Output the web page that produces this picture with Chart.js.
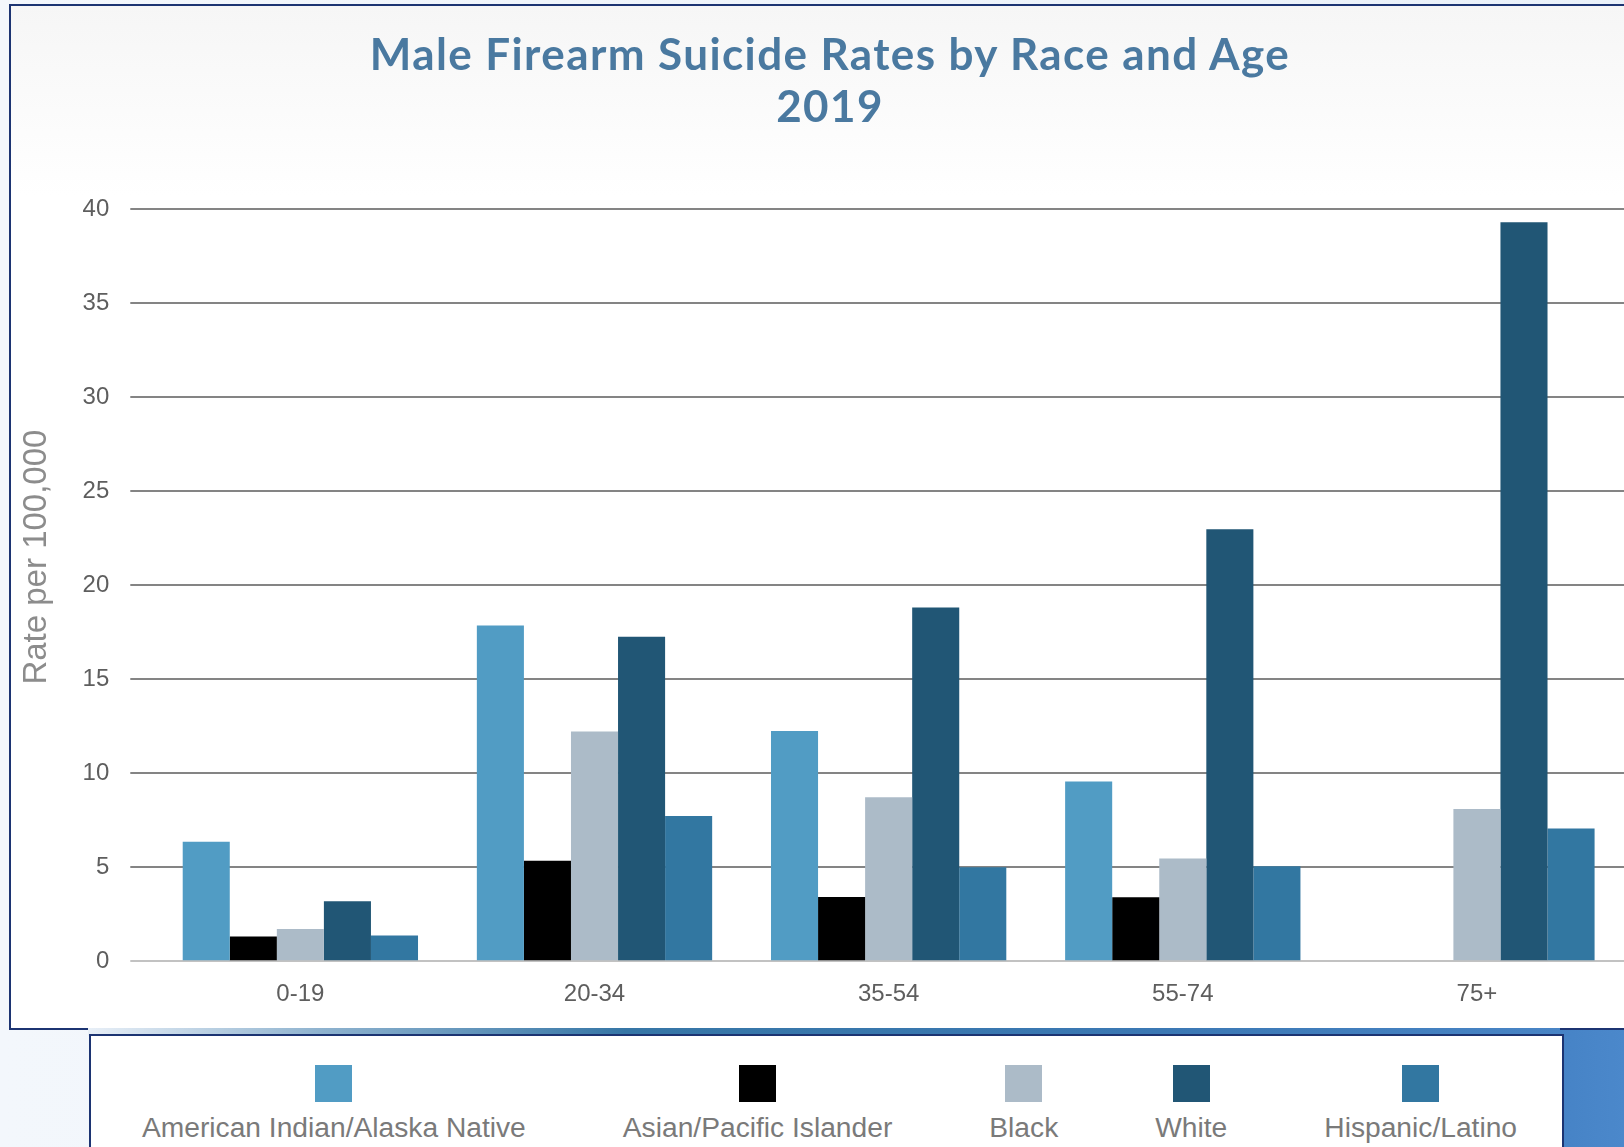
<!DOCTYPE html>
<html>
<head>
<meta charset="utf-8">
<script src="https://cdn.jsdelivr.net/npm/chart.js@4.4.1/dist/chart.umd.min.js"></script>
<style>
  html, body { margin: 0; padding: 0; }
  body {
    width: 1624px; height: 1147px; overflow: hidden; position: relative;
    background: linear-gradient(to right, #f3f7fc 0%, #eaf1f9 100%);
    font-family: "Liberation Sans", Arial, sans-serif;
  }
  #panel {
    position: absolute; left: 9px; top: 4px; width: 1700px; height: 1022px;
    border: 2px solid #1c3472;
    background: linear-gradient(to bottom, #f6f6f6 0px, #ffffff 190px);
  }
  #band {
    position: absolute; left: 88px; top: 1028px; width: 1536px; height: 8px;
    background: linear-gradient(to right, #e8eff7 0%, #8fb3cf 15%, #3676a6 35%, #3b78b4 70%, #4a86c8 100%);
  }
  #rightblock {
    position: absolute; left: 1560px; top: 1028px; width: 64px; height: 119px;
    background: linear-gradient(to right, #4683c6, #4b88cb);
    border-top: 2px solid #1c3472;
  }
  #legendbox {
    position: absolute; left: 89px; top: 1034px; width: 1471px; height: 200px;
    border: 2px solid #1c3472; background: #ffffff;
  }
  #legend {
    position: absolute; left: 0; top: 29px; width: 100%;
    display: flex; justify-content: center; gap: 97px; padding-left: 6px; box-sizing: border-box;
  }
  .item { display: flex; flex-direction: column; align-items: center; }
  .sw { width: 37px; height: 37px; }
  .lb { margin-top: 8px; font-size: 28.2px; line-height: 34px; color: #7a7a7a; white-space: nowrap; }
  #title {
    position: absolute; left: 0; top: 27px; width: 1660px; text-align: center;
    font-family: Lato, "Open Sans", sans-serif; font-weight: 700; font-size: 44px; line-height: 52px;
    letter-spacing: 1.4px; color: #4a79a0; z-index: 2;
  }
  #wrap { position: absolute; left: 11px; top: 6px; width: 1640px; height: 1022px; }
</style>
</head>
<body>
<div id="panel"></div>
<div id="band"></div>
<div id="rightblock"></div>
<div id="legendbox"><div id="legend"></div></div>
<div id="title">Male Firearm Suicide Rates by Race and Age<br>2019</div>
<div id="wrap"><canvas id="c" width="1640" height="1022"></canvas></div>
<script>
const categories = ["0-19", "20-34", "35-54", "55-74", "75+"];
const seriesNames = ["American Indian/Alaska Native", "Asian/Pacific Islander", "Black", "White", "Hispanic/Latino"];
const americanIndian = [6.35, 17.85, 12.24, 9.56, null];
const asianPacific = [1.32, 5.34, 3.42, 3.40, null];
const black = [1.71, 12.22, 8.72, 5.46, 8.1];
const white = [3.19, 17.26, 18.81, 22.97, 39.29];
const hispanic = [1.37, 7.72, 5.0, 5.05, 7.05];
const yTicks = [0, 5, 10, 15, 20, 25, 30, 35, 40];
const yTitle = "Rate per 100,000";
const seriesColors = ["#519cc4", "#000000", "#acbbc8", "#215675", "#3277a1"];

const seriesValues = [americanIndian, asianPacific, black, white, hispanic];

// Draws the y-axis title slightly above the middle of the axis, as in the original
const yTitlePlugin = {
  id: 'yTitleShift',
  afterDraw(chart) {
    const s = chart.scales.y;
    const ctx = chart.ctx;
    ctx.save();
    ctx.font = 'normal 33px "Liberation Sans"';
    ctx.fillStyle = '#8c8c8c';
    ctx.textAlign = 'center';
    ctx.textBaseline = 'middle';
    ctx.translate(s.left + 6 + 33 * 1.2 / 2, (chart.chartArea.top + chart.chartArea.bottom) / 2 - 28);
    ctx.rotate(-Math.PI / 2);
    ctx.fillText(yTitle, 0, 0);
    ctx.restore();
  }
};

const chart = new Chart(document.getElementById('c'), {
  type: 'bar',
  data: {
    labels: categories,
    datasets: seriesNames.map((n, i) => ({
      label: n,
      data: seriesValues[i],
      backgroundColor: seriesColors[i],
      borderWidth: 0,
      categoryPercentage: 0.8,
      barPercentage: 1.0
    }))
  },
  plugins: [yTitlePlugin],
  options: {
    responsive: false,
    animation: false,
    devicePixelRatio: 1,
    layout: { padding: { top: 203, left: 0, right: 27, bottom: 0 } },
    plugins: {
      legend: { display: false },
      title: { display: false },
      tooltip: { enabled: false }
    },
    scales: {
      x: {
        grid: { display: false, drawTicks: false },
        border: { display: false },
        ticks: { color: '#5e5e5e', padding: 19, font: { family: 'Liberation Sans', size: 24 } }
      },
      y: {
        min: 0, max: 40,
        afterBuildTicks: (axis) => { axis.ticks = yTicks.map(v => ({ value: v })); },
        grid: {
          color: (ctx) => (ctx.tick && ctx.tick.value === 0) ? '#c2c2c2' : '#848484',
          lineWidth: 2,
          tickLength: 23,
          drawTicks: true
        },
        border: { display: false },
        ticks: { color: '#5e5e5e', padding: 21, font: { family: 'Liberation Sans', size: 24 } },
        title: {
          display: true,
          text: '',
          color: 'rgba(0,0,0,0)',
          padding: { top: 6, bottom: 5 },
          font: { family: 'Liberation Sans', size: 33, weight: 'normal' }
        }
      }
    }
  }
});

const legendEl = document.getElementById('legend');
chart.data.datasets.forEach(ds => {
  const it = document.createElement('div'); it.className = 'item';
  const sw = document.createElement('div'); sw.className = 'sw'; sw.style.background = ds.backgroundColor;
  const lb = document.createElement('div'); lb.className = 'lb'; lb.textContent = ds.label;
  it.appendChild(sw); it.appendChild(lb); legendEl.appendChild(it);
});
</script>
</body>
</html>
